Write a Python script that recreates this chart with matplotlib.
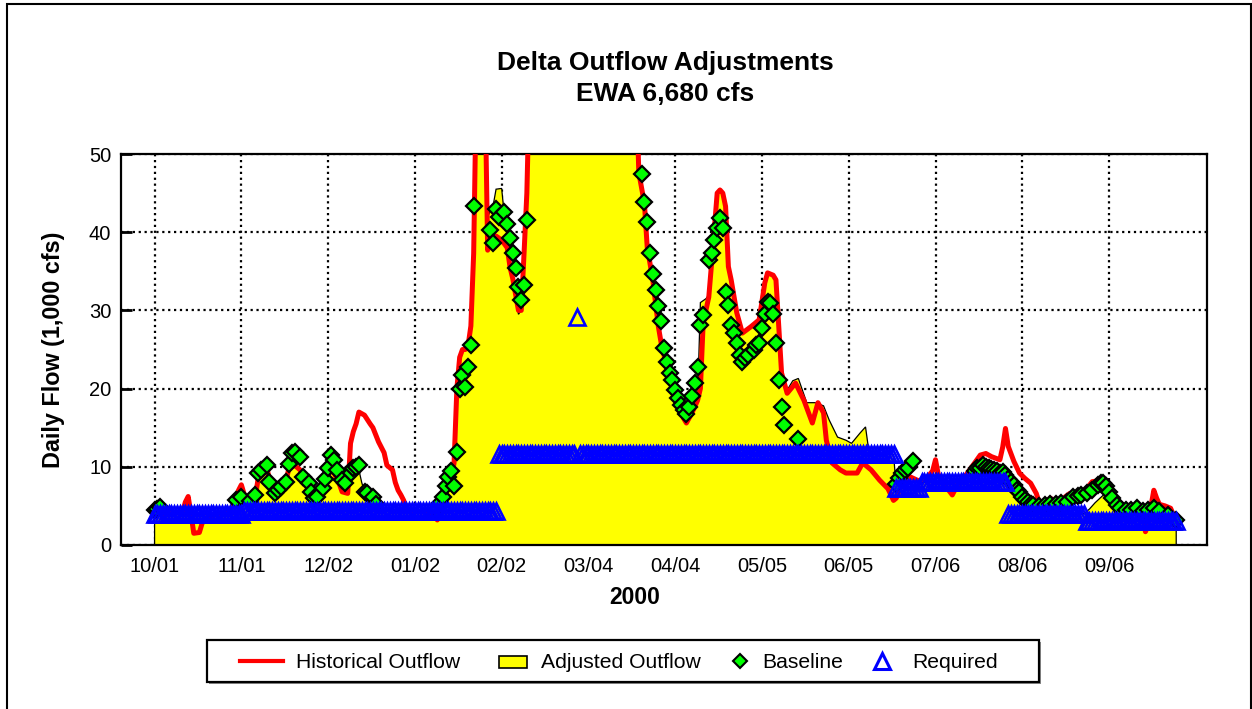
import numpy as np
import matplotlib
matplotlib.use("Agg")
import matplotlib.pyplot as plt
from matplotlib.lines import Line2D
from matplotlib.patches import Rectangle

plt.rcParams['font.family'] = ['Liberation Sans', 'DejaVu Sans']

# x axis = days since 10/01/1999
tick_days = [0, 31, 62, 93, 124, 155, 186, 217, 248, 279, 310, 341]
tick_labels = ["10/01", "11/01", "12/02", "01/02", "02/02", "03/04",
               "04/04", "05/05", "06/05", "07/06", "08/06", "09/06"]

# Historical outflow (1,000 cfs), values above 50 run off the chart
hist_day = [0, 5, 10, 11, 12, 13, 14, 16, 17, 19, 22, 26, 28, 30, 31, 32, 33, 35, 36, 37,
            38, 40, 41, 43, 45, 47, 48, 50, 52, 54, 56, 58, 60, 61, 63, 64, 66, 67, 69, 70,
            71, 72, 73, 75, 77, 78, 80, 82, 83, 85, 86, 87, 88, 89, 90, 94, 98, 100, 101, 102,
            103, 104, 105, 106, 107, 108, 109, 110, 111, 112, 113, 114, 115, 118, 119, 120, 121, 122, 124, 126,
            127, 128, 129, 130, 131, 132, 133, 134, 172, 173, 175, 176, 178, 180, 181, 183, 185, 187, 189, 190,
            192, 194, 195, 196, 198, 199, 201, 202, 203, 204, 205, 206, 208, 210, 213, 216, 218, 219, 221, 222,
            223, 224, 226, 229, 232, 235, 237, 239, 240, 242, 245, 247, 251, 253, 256, 259, 262, 264, 265, 267,
            270, 273, 276, 278, 279, 280, 282, 285, 287, 290, 293, 295, 297, 299, 302, 303, 304, 305, 307, 309,
            311, 313, 315, 316, 318, 320, 322, 324, 327, 330, 333, 335, 339, 341, 343, 345, 348, 351, 353, 354,
            355, 356, 357, 358, 359, 361, 363, 365]
hist_flow = [3.9, 4.0, 4.2, 5.5, 6.2, 4.0, 1.5, 1.6, 2.8, 3.6, 3.9, 4.1, 5.0, 7.0, 7.7, 6.5, 5.0, 5.5, 6.2, 8.5,
             9.4, 10.0, 8.5, 6.8, 7.2, 8.3, 9.8, 10.2, 9.6, 8.0, 7.0, 6.4, 7.3, 8.4, 9.5, 9.3, 7.8, 6.8, 6.6, 13.0,
             14.5, 15.5, 17.0, 16.6, 15.5, 15.0, 13.2, 11.8, 10.2, 9.6, 8.0, 7.0, 6.4, 5.7, 4.5, 4.3, 4.2, 3.8, 3.2, 4.0,
             5.5, 6.8, 7.6, 8.5, 10.5, 20.0, 24.0, 25.0, 25.0, 25.5, 28.0, 37.3, 60.0, 60.0, 37.7, 39.0, 39.4, 39.5, 39.0, 38.0,
             35.5, 34.0, 32.0, 30.0, 30.0, 37.3, 45.0, 60.0, 60.0, 47.6, 43.7, 38.1, 33.9, 27.9, 25.8, 22.8, 20.0, 18.2, 16.2, 15.6,
             16.9, 18.5, 20.0, 28.4, 31.7, 36.0, 45.0, 45.4, 45.0, 43.3, 35.6, 33.9, 29.7, 27.1, 27.9, 28.8, 33.5, 34.8, 34.5, 33.9,
             27.9, 22.0, 19.4, 20.7, 18.5, 15.6, 18.2, 16.9, 13.4, 10.5, 9.6, 9.2, 9.2, 10.5, 9.6, 8.3, 7.2, 5.7, 6.0, 7.9,
             8.7, 8.2, 8.6, 9.5, 10.9, 9.0, 7.8, 6.4, 7.8, 9.0, 10.5, 11.5, 11.7, 11.3, 10.9, 12.5, 14.9, 12.6, 10.7, 9.2,
             8.5, 7.9, 6.6, 5.5, 5.0, 6.0, 5.5, 5.8, 6.6, 6.5, 7.2, 8.1, 8.3, 7.2, 6.0, 4.8, 4.5, 4.4, 4.0, 1.7,
             2.5, 5.0, 7.0, 6.0, 5.2, 5.0, 4.7, 3.0]

# Adjusted outflow (yellow area)
adj_day = [0, 27, 28, 30, 31, 32, 33, 35, 36, 37, 38, 40, 41, 43, 45, 47, 48, 50, 52, 54,
           56, 58, 60, 61, 63, 64, 66, 67, 69, 71, 73, 74, 75, 77, 79, 100, 102, 103, 104, 105,
           106, 107, 108, 109, 110, 111, 112, 113, 114, 115, 118, 119, 121, 122, 124, 125, 126, 127, 128, 129,
           130, 131, 132, 133, 134, 172, 173, 175, 176, 178, 180, 181, 183, 185, 187, 189, 190, 192, 194, 195,
           197, 198, 199, 201, 202, 203, 204, 205, 206, 208, 210, 213, 216, 218, 219, 221, 222, 223, 224, 226,
           228, 230, 233, 236, 239, 241, 244, 247, 249, 252, 254, 255, 256, 264, 265, 273, 274, 304, 305, 307,
           310, 313, 316, 332, 334, 336, 339, 342, 344, 365]
adj_flow = [4.0, 4.0, 5.0, 7.0, 7.7, 6.5, 5.0, 5.5, 6.2, 8.5, 9.4, 10.0, 8.5, 6.8, 7.2, 8.3, 9.8, 10.2, 9.6, 8.0,
            7.0, 6.4, 7.3, 8.4, 9.5, 9.3, 7.8, 6.8, 7.5, 9.4, 9.6, 8.0, 6.8, 5.5, 4.6, 4.5, 5.0, 5.5, 6.8, 7.6,
            8.5, 10.5, 20.0, 24.0, 25.0, 25.0, 25.5, 28.0, 37.3, 60.0, 60.0, 42.0, 43.5, 45.5, 45.6, 42.0, 40.0, 36.5, 34.5, 32.0,
            29.5, 30.0, 37.3, 45.0, 60.0, 60.0, 47.6, 43.7, 38.1, 33.9, 27.9, 25.8, 22.8, 20.0, 18.2, 16.2, 15.6, 16.9, 18.5, 31.0,
            31.5, 32.0, 36.0, 45.0, 45.4, 45.0, 43.3, 35.6, 33.9, 29.7, 27.1, 27.9, 28.8, 33.5, 34.8, 34.5, 33.9, 27.9, 22.0, 19.8,
            21.0, 21.3, 18.2, 18.2, 17.8, 16.0, 13.8, 13.4, 13.0, 14.3, 15.1, 12.5, 11.6, 11.6, 7.3, 7.5, 8.0, 8.0, 7.0, 6.3,
            5.3, 4.5, 4.0, 4.0, 4.6, 5.4, 6.4, 5.0, 3.3, 3.2]

# Baseline (green diamonds), only days that show above the Required band
base_day = [0, 1, 2, 29, 31, 34, 36, 37, 38, 40, 41, 43, 44, 45, 47, 48, 49, 50, 52, 53,
            55, 56, 57, 58, 60, 61, 62, 63, 64, 65, 67, 68, 70, 71, 72, 73, 75, 76, 78, 79,
            101, 102, 103, 104, 105, 106, 107, 108, 109, 110, 111, 112, 113, 114,
            120, 121, 122, 123, 125, 126, 127, 128, 129, 130, 131, 132, 133,
            174, 175, 176, 177, 178, 179, 180, 181, 182, 183, 184, 185, 186, 187, 188, 189, 190, 191, 192,
            193, 194, 195, 196, 198, 199, 200, 201, 202, 203, 204, 205, 206, 207, 208, 209, 210, 211, 212, 214,
            215, 216, 217, 218, 219, 220, 221, 222, 223, 224, 225, 230,
            265, 266, 267, 268, 269, 271,
            293, 294, 295, 296, 297, 298, 299, 300, 301, 302, 303, 304, 305, 306, 307, 308, 309, 310, 311, 312,
            313, 314, 316, 318, 320, 322, 324, 326, 328, 330, 331, 333, 335, 337, 338, 339, 340, 341, 342, 344,
            345, 347, 349, 351, 353, 355, 357, 359, 362, 365]
base_flow = [4.5, 4.6, 4.9, 5.8, 6.2, 5.6, 6.4, 9.2, 9.6, 10.2, 8.1, 6.6, 7.0, 7.4, 8.1, 10.3, 11.8, 11.9, 11.3, 8.7,
             7.9, 6.8, 6.0, 6.2, 7.3, 8.5, 9.8, 11.5, 10.9, 9.6, 8.3, 7.9, 9.2, 9.8, 10.0, 10.2, 6.8, 6.6, 6.1, 5.3,
             4.6, 5.4, 6.2, 7.5, 8.7, 9.4, 7.5, 11.9, 20.0, 21.7, 20.2, 22.8, 25.6, 43.3,
             40.3, 38.6, 43.0, 42.0, 42.6, 41.1, 39.2, 37.3, 35.4, 33.0, 31.3, 33.2, 41.6,
             47.5, 43.9, 41.3, 37.3, 34.7, 32.6, 30.5, 28.6, 25.2, 23.4, 22.0, 21.1, 19.8, 18.8, 17.9, 17.3, 16.8, 17.7, 19.0,
             20.7, 22.8, 28.1, 29.4, 36.4, 37.3, 39.0, 40.5, 41.8, 40.5, 32.4, 30.7, 28.1, 27.1, 25.8, 24.3, 23.4, 23.9, 24.3, 24.9,
             25.6, 25.8, 27.7, 29.6, 31.1, 30.9, 29.6, 25.8, 21.1, 17.7, 15.3, 13.6,
             7.8, 8.6, 9.2, 9.6, 9.9, 10.7,
             9.4, 9.8, 9.9, 10.2, 10.0, 9.8, 9.7, 9.6, 9.4, 9.2, 9.3, 8.9, 8.5, 8.0, 7.7, 7.0, 6.8, 6.2, 5.8, 5.5,
             5.2, 5.1, 5.0, 5.1, 5.2, 5.3, 5.4, 5.5, 6.2, 6.3, 6.4, 6.7, 7.0, 7.7, 7.9, 7.9, 7.5, 6.8, 6.0, 5.1,
             4.7, 4.5, 4.5, 4.7, 4.3, 4.5, 4.7, 4.3, 3.8, 3.2]

# Required (blue triangles): constant levels, one marker per day
req_level = [4.0, 4.4, 11.6, 29.2, 11.6, 7.3, 8.0, 4.0, 3.1]
req_ndays = [32, 91, 28, 1, 113, 9, 31, 28, 33]
req_flow = np.repeat(req_level, req_ndays)
req_day = np.arange(len(req_flow))

W, H = 1252, 709
fig = plt.figure(figsize=(W / 100, H / 100), dpi=100)
ax = fig.add_axes([121 / W, 1 - 545 / H, (1207 - 121) / W, (545 - 154) / H])

poly_x = [adj_day[0]] + adj_day + [adj_day[-1]]
poly_y = [0] + adj_flow + [0]
ax.fill(poly_x, poly_y, facecolor='#ffff00', edgecolor='black', lw=0.9, zorder=2)
ax.plot(hist_day, hist_flow, color='#ff0000', lw=3.6, zorder=3)
ax.plot(base_day, base_flow, ls='none', marker='D', ms=7.8, mfc='#00ff00',
        mec='black', mew=1.6, zorder=4)
ax.plot(req_day, req_flow, ls='none', marker='^', ms=11.5, mfc='none',
        mec='#0000ff', mew=1.9, zorder=5)

ax.set_xlim(-12, 376)
ax.set_ylim(0, 50)
ax.set_xticks(tick_days, tick_labels)
ax.set_yticks([0, 10, 20, 30, 40, 50])
ax.set_axisbelow(True)
ax.grid(True, ls=':', color='black', lw=1.6)
ax.tick_params(axis='y', direction='in', length=8, width=2, labelsize=14.5, pad=7)
ax.tick_params(axis='x', direction='in', length=4, width=1.5, labelsize=14.5, pad=9)
for sp in ax.spines.values():
    sp.set_linewidth(1.6)

ax.set_ylabel('Daily Flow (1,000 cfs)', fontsize=16.8, fontweight='bold')
ax.yaxis.set_label_coords(-0.0516, 0.5)
ax.set_xlabel('2000', fontsize=16.5, fontweight='bold')
ax.xaxis.set_label_coords(0.4728, -0.105)

fig.text(665.5 / W, 1 - 70 / H, 'Delta Outflow Adjustments', ha='center',
         va='baseline', fontsize=19, fontweight='bold')
fig.text(665.5 / W, 1 - 101 / H, 'EWA 6,680 cfs', ha='center',
         va='baseline', fontsize=19, fontweight='bold')

# legend drawn by hand to match the original spacing
def fx(x):
    return x / W

def fy(y):
    return 1 - y / H

tf = fig.transFigure
fig.add_artist(Rectangle((fx(209), fy(684)), (1039 - 207) / W, 42 / H, transform=tf,
                         facecolor='0.55', edgecolor='none', zorder=1))
fig.add_artist(Rectangle((fx(207), fy(682)), (1039 - 207) / W, 42 / H, transform=tf,
                         facecolor='white', edgecolor='black', lw=1.6, zorder=2))
fig.add_artist(Line2D([fx(240), fx(283)], [fy(661), fy(661)], transform=tf,
                      color='#ff0000', lw=3, zorder=3))
fig.add_artist(Rectangle((fx(499), fy(668)), 28 / W, 12 / H, transform=tf,
                         facecolor='#ffff00', edgecolor='black', lw=1.2, zorder=3))
fig.add_artist(Line2D([fx(740.5)], [fy(661)], transform=tf, ls='none', marker='D',
                      ms=7.2, mfc='#00ff00', mec='black', mew=1.5, zorder=3))
fig.add_artist(Line2D([fx(882)], [fy(661)], transform=tf, ls='none', marker='^',
                      ms=11, mfc='none', mec='#0000ff', mew=2.2, zorder=3))
for x, label in [(296, 'Historical Outflow'), (541, 'Adjusted Outflow'),
                 (762, 'Baseline'), (912, 'Required')]:
    fig.text(fx(x), fy(668.5), label, ha='left', va='baseline', fontsize=15.2, zorder=4)

# outer frame of the picture
fig.add_artist(Rectangle((7 / W, -0.05), (1251 - 7) / W, 1.05 - 4 / H, transform=tf,
                         fill=False, edgecolor='black', lw=1.5, clip_on=False))

fig.savefig('out.png', dpi=100)
